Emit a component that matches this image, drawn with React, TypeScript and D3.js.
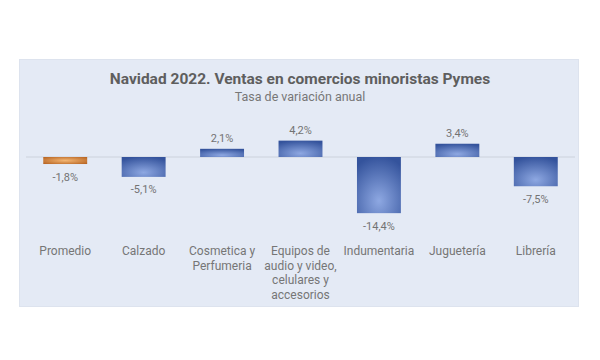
import React from 'react';
import * as d3 from 'd3';

const categories = [
  ['Promedio'],
  ['Calzado'],
  ['Cosmetica y', 'Perfumeria'],
  ['Equipos de', 'audio y video,', 'celulares y', 'accesorios'],
  ['Indumentaria'],
  ['Juguetería'],
  ['Librería'],
];
const values = [-1.8, -5.1, 2.1, 4.2, -14.4, 3.4, -7.5];
const labels = ['-1,8%', '-5,1%', '2,1%', '4,2%', '-14,4%', '3,4%', '-7,5%'];

const W = 600;
const H = 360;

export default function App() {
  const x = d3
    .scaleBand<number>()
    .domain(d3.range(values.length))
    .range([26, 575])
    .paddingInner(0.44)
    .paddingOuter(0.22);
  const y = d3.scaleLinear().domain([-15, 5]).range([215.5, 137.5]);
  const y0 = y(0);

  return (
    <svg
      width={W}
      height={H}
      style={{ position: 'absolute', left: 0, top: 0 }}
      fontFamily="Roboto, 'Liberation Sans', sans-serif"
    >
      <defs>
        <radialGradient id="blue" cx="50%" cy="78%" r="80%">
          <stop offset="0%" stopColor="#8ea8e2" />
          <stop offset="100%" stopColor="#34539c" />
        </radialGradient>
        <radialGradient id="orange" cx="50%" cy="50%" r="75%">
          <stop offset="0%" stopColor="#f3b673" />
          <stop offset="100%" stopColor="#b05a18" />
        </radialGradient>
      </defs>
      <rect width={W} height={H} fill="#ffffff" />
      <rect x={19.5} y={59.5} width={559} height={247} fill="#e4eaf5" stroke="#dde3ee" />
      <text x={300} y={84} textAnchor="middle" fontSize={15.5} fontWeight="bold" fill="#5e5e5e">
        Navidad 2022. Ventas en comercios minoristas Pymes
      </text>
      <text x={300} y={101} textAnchor="middle" fontSize={12.5} fill="#777777">
        Tasa de variación anual
      </text>
      <line x1={26} x2={575} y1={y0} y2={y0} stroke="#ccd2dc" strokeWidth={1} />
      {values.map((v, i) => {
        const bx = x(i) as number;
        const top = Math.min(y(v), y0);
        const h = Math.abs(y(v) - y0);
        const cx = bx + x.bandwidth() / 2;
        return (
          <g key={i}>
            <rect
              x={bx}
              y={top}
              width={x.bandwidth()}
              height={h}
              fill={i === 0 ? 'url(#orange)' : 'url(#blue)'}
            />
            <text
              x={cx}
              y={v >= 0 ? y(v) - 7 : y(v) + 16.5}
              textAnchor="middle"
              fontSize={11}
              fill="#737373"
            >
              {labels[i]}
            </text>
            {categories[i].map((line, j) => (
              <text
                key={j}
                x={cx}
                y={255 + j * 14.5}
                textAnchor="middle"
                fontSize={12}
                fill="#767676"
              >
                {line}
              </text>
            ))}
          </g>
        );
      })}
    </svg>
  );
}
